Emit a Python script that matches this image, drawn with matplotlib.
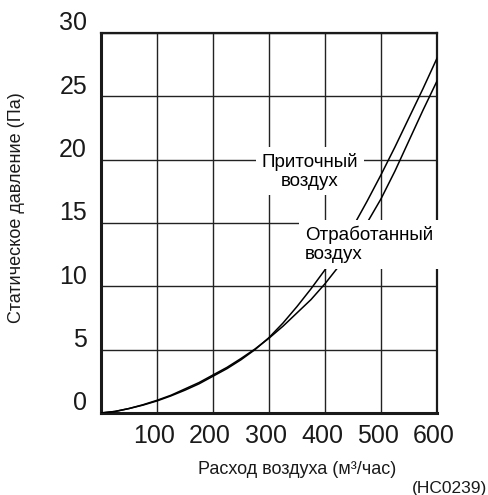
import matplotlib.pyplot as plt
from matplotlib.transforms import ScaledTranslation

plt.rcParams["font.family"] = ["Liberation Sans", "DejaVu Sans"]

# расход воздуха, м3/час
airflow = [0, 25, 50, 75, 100, 125, 150, 175, 200, 225, 250, 275, 300,
           325, 350, 375, 400, 425, 450, 475, 500, 525, 550, 575, 600]
# статическое давление, Па
supply_pressure = [0, 0.12, 0.35, 0.62, 0.95, 1.35, 1.8, 2.3, 2.9, 3.5, 4.2, 5.0, 5.95,
                   7.1, 8.4, 9.8, 11.3, 12.9, 14.7, 16.7, 18.8, 21.0, 23.3, 25.6, 28.0]
exhaust_pressure = [0, 0.12, 0.35, 0.65, 1.0, 1.4, 1.9, 2.4, 3.0, 3.6, 4.3, 5.05, 5.9,
                    6.85, 7.9, 8.95, 10.2, 11.6, 13.2, 15.0, 16.9, 19.1, 21.5, 23.9, 26.2]

x_ticks = [100, 200, 300, 400, 500, 600]
y_ticks = [0, 5, 10, 15, 20, 25, 30]


def main():
    fig = plt.figure(figsize=(4.89, 4.95), dpi=100)
    ax = fig.add_axes([0.2065, 0.1657, 0.6871, 0.7677])

    ax.plot(airflow, supply_pressure, color="black", lw=1.1, zorder=3)
    ax.plot(airflow, exhaust_pressure, color="black", lw=1.1, zorder=3)

    ax.set_xlim(0, 600)
    ax.set_ylim(0, 30)
    ax.set_xticks(x_ticks)
    ax.set_yticks(y_ticks)
    ax.grid(True, color="#222222", lw=1.0)
    ax.set_axisbelow(True)
    ax.tick_params(length=0, labelsize=18, colors="#1a1a1a")
    ax.tick_params(axis="y", pad=10)
    ax.tick_params(axis="x", pad=8)

    for label in ax.get_yticklabels():
        label.set_transform(label.get_transform() + ScaledTranslation(0, 0.12, fig.dpi_scale_trans))
    for label in ax.get_xticklabels():
        label.set_transform(label.get_transform() + ScaledTranslation(-0.03, 0, fig.dpi_scale_trans))

    for side in ["left", "bottom"]:
        ax.spines[side].set_linewidth(2.2)
    for side in ["top", "right"]:
        ax.spines[side].set_linewidth(1.6)
    for spine in ax.spines.values():
        spine.set_color("#1a1a1a")

    ax.text(373, 19.1, "Приточный\nвоздух", fontsize=13.5, ha="center", va="center",
            linespacing=1.15, zorder=4,
            bbox=dict(boxstyle="square,pad=0.3", fc="white", ec="none"))
    ax.text(364, 13.3, "Отработанный\nвоздух", fontsize=13.5, ha="left", va="center",
            linespacing=1.15, zorder=4,
            bbox=dict(boxstyle="square,pad=0.3", fc="white", ec="none"))

    fig.text(297 / 489, 1 - 469 / 495, "Расход воздуха (м³/час)",
             fontsize=13, ha="center", va="center", color="#1a1a1a")
    fig.text(17 / 489, 1 - 208 / 495, "Статическое давление (Па)", fontsize=13,
             rotation=90, ha="center", va="center", color="#1a1a1a")
    fig.text(487 / 489, 1 - 488 / 495, "(HC0239)", fontsize=12.5,
             ha="right", va="center", color="#1a1a1a")

    fig.savefig("out.png", dpi=100)
    plt.close(fig)


if __name__ == "__main__":
    main()
